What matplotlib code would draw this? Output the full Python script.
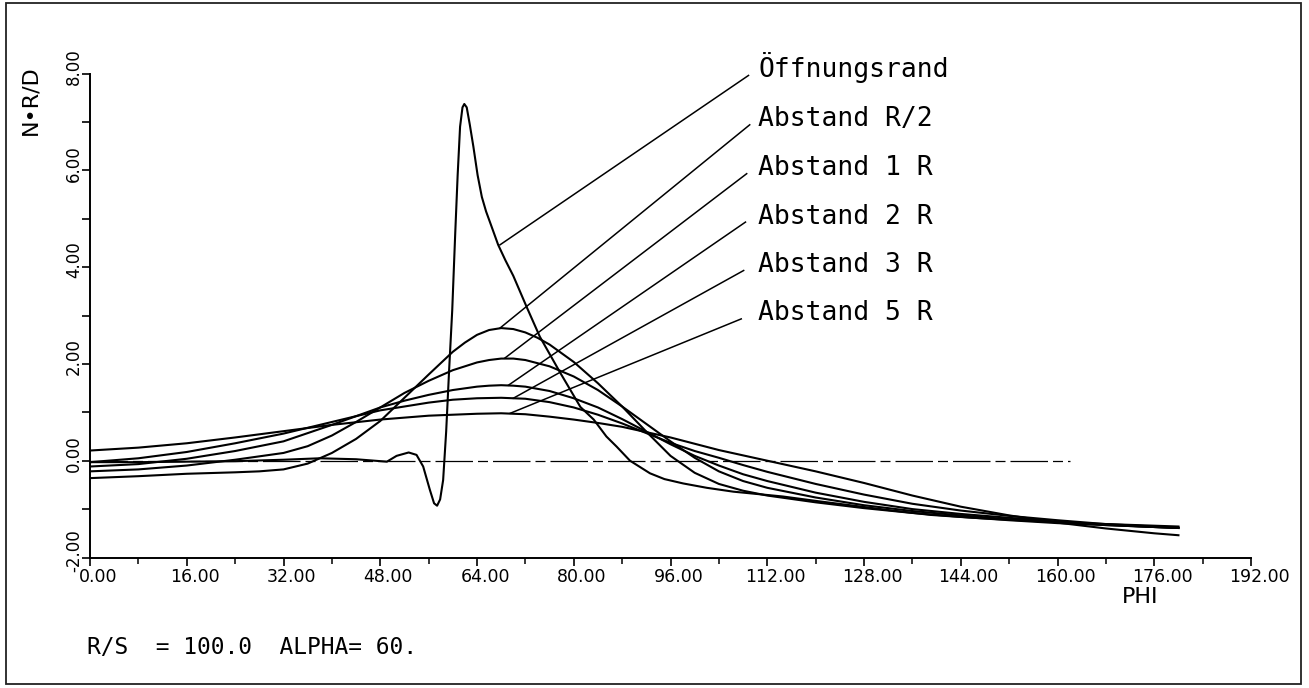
import matplotlib
matplotlib.use("Agg")
import matplotlib.pyplot as plt
import matplotlib.transforms as mtransforms
from matplotlib.patches import Rectangle

# ---------------- data ----------------
phi_oeff = [0, 8, 16, 24, 32, 38, 44, 49.1, 50.7, 52.7, 54.0, 55.1, 56.2, 56.9, 57.4, 57.9,
            58.4, 58.9, 59.4, 59.9, 60.4, 60.8, 61.2, 61.6, 61.9, 62.3, 62.8, 63.4, 64.1,
            64.8, 65.5, 66.2, 67.5, 68.7, 70.0, 72.2, 74.4, 77.8, 81.1, 83.3, 85.4, 87.1,
            89.3, 92.6, 95, 98.1, 102, 106.4, 114.6, 120, 125.7, 132, 139, 146, 152, 160,
            166, 173, 180]
n_oeff = [-0.03, -0.03, -0.02, -0.01, 0.02, 0.05, 0.03, -0.02, 0.10, 0.17, 0.12, -0.12,
          -0.60, -0.88, -0.93, -0.80, -0.40, 0.60, 1.90, 3.10, 4.70, 5.90, 6.90, 7.30, 7.37,
          7.30, 6.95, 6.49, 5.90, 5.45, 5.15, 4.91, 4.46, 4.14, 3.82, 3.18, 2.56, 1.81,
          1.11, 0.85, 0.50, 0.29, 0.00, -0.26, -0.38, -0.47, -0.56, -0.64, -0.74, -0.83,
          -0.92, -1.02, -1.12, -1.18, -1.22, -1.27, -1.30, -1.33, -1.36]

phi_r2 = [0, 8, 16, 24, 28, 32, 36, 40, 44, 48, 52, 56, 60, 62, 64, 66, 68, 70, 72, 74,
          76, 80, 84, 88, 92, 96, 100, 104, 108, 112, 120, 128, 136, 144, 152, 160, 168,
          176, 180]
n_r2 = [-0.36, -0.32, -0.27, -0.24, -0.22, -0.18, -0.06, 0.16, 0.45, 0.82, 1.30, 1.78,
        2.25, 2.44, 2.60, 2.70, 2.74, 2.72, 2.65, 2.54, 2.40, 2.04, 1.60, 1.12, 0.60, 0.10,
        -0.25, -0.48, -0.62, -0.72, -0.86, -0.98, -1.08, -1.16, -1.23, -1.29, -1.33, -1.37,
        -1.39]

phi_1r = [0, 8, 16, 24, 32, 36, 40, 44, 48, 52, 56, 60, 64, 66, 68, 70, 72, 76, 80, 84,
          88, 92, 96, 100, 104, 108, 112, 120, 128, 136, 144, 152, 160, 168, 176, 180]
n_1r = [-0.22, -0.18, -0.10, 0.02, 0.16, 0.30, 0.52, 0.80, 1.10, 1.40, 1.65, 1.87, 2.03,
        2.08, 2.11, 2.11, 2.08, 1.95, 1.74, 1.46, 1.12, 0.76, 0.40, 0.06, -0.22, -0.42,
        -0.56, -0.76, -0.92, -1.04, -1.13, -1.21, -1.27, -1.33, -1.37, -1.39]

phi_2r = [0, 8, 16, 24, 32, 40, 48, 52, 56, 60, 64, 66, 68, 70, 72, 76, 80, 84, 88, 92,
          96, 100, 104, 108, 112, 120, 128, 136, 144, 152, 160, 168, 176, 180]
n_2r = [-0.12, -0.07, 0.04, 0.20, 0.40, 0.74, 1.10, 1.24, 1.36, 1.46, 1.53, 1.55, 1.56,
        1.55, 1.53, 1.44, 1.29, 1.10, 0.86, 0.60, 0.34, 0.10, -0.10, -0.28, -0.42, -0.66,
        -0.85, -1.00, -1.10, -1.18, -1.26, -1.32, -1.37, -1.39]

phi_3r = [0, 8, 16, 24, 32, 40, 48, 56, 60, 64, 68, 72, 76, 80, 84, 88, 92, 96, 100, 104,
          108, 112, 120, 128, 136, 144, 152, 160, 168, 176, 180]
n_3r = [-0.03, 0.05, 0.18, 0.36, 0.56, 0.80, 1.04, 1.20, 1.26, 1.29, 1.30, 1.28, 1.21,
        1.10, 0.95, 0.77, 0.57, 0.37, 0.20, 0.06, -0.09, -0.23, -0.48, -0.70, -0.89, -1.03,
        -1.14, -1.23, -1.31, -1.36, -1.38]

phi_5r = [0, 8, 16, 24, 32, 40, 48, 56, 64, 68, 72, 76, 80, 84, 88, 92, 96, 100, 104, 108,
          112, 120, 128, 136, 144, 152, 160, 168, 176, 180]
n_5r = [0.21, 0.27, 0.36, 0.48, 0.61, 0.74, 0.85, 0.93, 0.97, 0.98, 0.96, 0.91, 0.85, 0.78,
        0.70, 0.59, 0.48, 0.35, 0.22, 0.11, 0.00, -0.22, -0.46, -0.72, -0.95, -1.13, -1.28,
        -1.40, -1.50, -1.54]

series_labels = ["Öffnungsrand", "Abstand R/2", "Abstand 1 R",
                 "Abstand 2 R", "Abstand 3 R", "Abstand 5 R"]

x_ticks_major = [0, 16, 32, 48, 64, 80, 96, 112, 128, 144, 160, 176, 192]
x_tick_labels = ["0.00", "16.00", "32.00", "48.00", "64.00", "80.00", "96.00",
                 "112.00", "128.00", "144.00", "160.00", "176.00", "192.00"]
x_ticks_minor = [8, 24, 40, 56, 72, 88, 104, 120, 136, 152, 168, 184]
y_ticks_major = [-2, 0, 2, 4, 6, 8]
y_tick_labels = ["-2.00", "0.00", "2.00", "4.00", "6.00", "8.00"]
y_ticks_minor = [-1, 1, 3, 5, 7]

# ---------------- layout ----------------
W, H = 1309, 688
fig = plt.figure(figsize=(W / 100, H / 100), dpi=100)
fig.patch.set_facecolor("white")

ax_l, ax_r, ax_t, ax_b = 90, 1251, 73.5, 557.5
ax = fig.add_axes([ax_l / W, 1 - ax_b / H, (ax_r - ax_l) / W, (ax_b - ax_t) / H])
ax.set_xlim(0, 192)
ax.set_ylim(-2, 8)
ax.patch.set_alpha(0)

for s in ["top", "right"]:
    ax.spines[s].set_visible(False)
for s in ["left", "bottom"]:
    ax.spines[s].set_linewidth(1.4)
    ax.spines[s].set_color("black")

ax.set_xticks(x_ticks_major)
ax.set_xticks(x_ticks_minor, minor=True)
ax.set_yticks(y_ticks_major)
ax.set_yticks(y_ticks_minor, minor=True)
ax.tick_params(axis="x", which="major", direction="out", length=5.5, width=1.2,
               labelbottom=False)
ax.tick_params(axis="x", which="minor", direction="out", length=4, width=1.1)
ax.tick_params(axis="y", which="both", direction="out", length=6, width=1.2,
               labelleft=False)

lw = 1.5
curves = [(phi_oeff, n_oeff), (phi_r2, n_r2), (phi_1r, n_1r),
          (phi_2r, n_2r), (phi_3r, n_3r), (phi_5r, n_5r)]
for xs, ys in curves:
    ax.plot(xs, ys, color="black", lw=lw, solid_joinstyle="round", zorder=3)

# zero reference line (dash-dotted)
ax.plot([0, 162], [0, 0], color="black", lw=0.9, ls=(0, (30, 4, 8, 4)), zorder=2)

# tick labels (plotter style, offset from ticks)
off_x = mtransforms.ScaledTranslation(8 / 100, -19.5 / 100, fig.dpi_scale_trans)
tx = mtransforms.blended_transform_factory(ax.transData, ax.transAxes) + off_x
for v, lab in zip(x_ticks_major, x_tick_labels):
    ax.text(v, 0, lab, transform=tx, ha="center", va="center", fontsize=12.5,
            family="DejaVu Sans", clip_on=False)

off_y = mtransforms.ScaledTranslation(-16 / 100, 7 / 100, fig.dpi_scale_trans)
ty = mtransforms.blended_transform_factory(ax.transAxes, ax.transData) + off_y
for v, lab in zip(y_ticks_major, y_tick_labels):
    ax.text(0, v, lab, transform=ty, rotation=90, ha="center", va="center",
            fontsize=12, family="DejaVu Sans", clip_on=False)

# axis titles
fig.text(30 / W, 1 - 100 / H, "N\u2022R/D", rotation=90, ha="center", va="center",
         fontsize=16, family="DejaVu Sans")
fig.text(1140 / W, 1 - 597 / H, "PHI", ha="center", va="center",
         fontsize=16, family="DejaVu Sans")

# series labels with leader lines
leader_phi = [67.8, 67.8, 68.6, 69.2, 70.0, 69.5]
leader_n = [4.46, 2.74, 2.12, 1.56, 1.29, 0.98]
top_phi = [108.9, 109.1, 108.6, 108.4, 108.1, 107.7]
label_n = [7.93, 6.91, 5.90, 4.90, 3.90, 2.90]
label_phi = 110.5
for lab, lp, ln, tp, tn in zip(series_labels, leader_phi, leader_n, top_phi, label_n):
    ax.plot([lp, tp], [ln, tn + 0.03], color="black", lw=1.1, clip_on=False, zorder=3)
    ax.text(label_phi, tn, lab, ha="left", va="baseline", fontsize=19,
            family="DejaVu Sans Mono", clip_on=False)

# parameter line
fig.text(87 / W, 1 - 648 / H, "R/S  = 100.0  ALPHA= 60.", ha="left", va="center",
         fontsize=16.5, family="DejaVu Sans Mono")

# outer frame
fig.patches.append(Rectangle((6 / W, 1 - 684 / H), (1301 - 6) / W, (684 - 3) / H,
                             transform=fig.transFigure, fill=False, lw=1.3,
                             edgecolor="#222222"))

fig.savefig("out.png", dpi=100, facecolor="white")
